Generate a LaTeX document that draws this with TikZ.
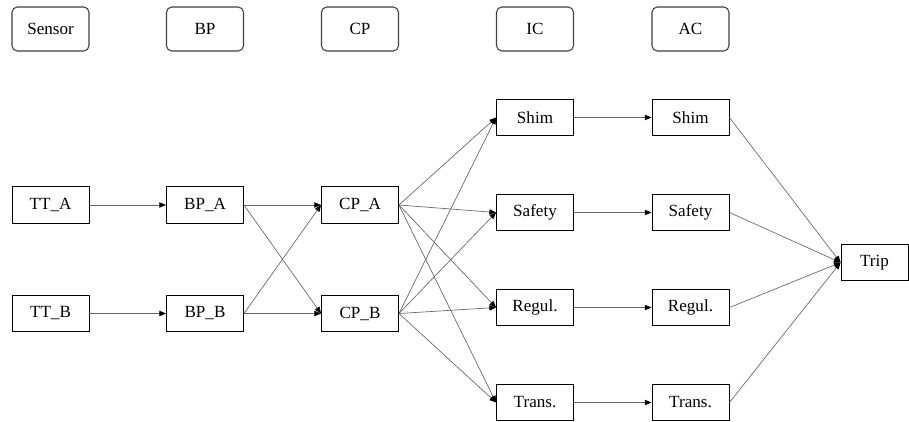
\documentclass[tikz,border=0pt]{standalone}
\usepackage{fontspec}
\setmainfont{Liberation Serif}
\newfontfamily\lserif{Liberation Serif}
\usetikzlibrary{arrows.meta}
\begin{document}
\begin{tikzpicture}[x=0.75pt,y=-0.75pt,
  lbl/.style={font=\lserif\fontsize{12.8pt}{14pt}\selectfont},
  hdr/.style={lbl,draw=black!75,line width=0.8pt,rounded corners=4pt,minimum width=77*0.75pt,minimum height=44*0.75pt,inner sep=0pt},
  box/.style={lbl,draw=black,line width=0.7pt,minimum width=77*0.75pt,minimum height=36.5*0.75pt,inner sep=0pt},
  edge/.style={draw=black!60,line width=0.5pt,-{Triangle[length=5pt,width=4pt,color=black]}}]
\useasboundingbox (0,0) rectangle (909,421);
% headers
\node[hdr] (hS) at (50.5,29) {Sensor};
\node[hdr] (hB) at (205,29) {BP};
\node[hdr] (hC) at (360,29) {CP};
\node[hdr] (hI) at (535,29) {IC};
\node[hdr] (hA) at (690.5,29) {AC};
% sensors
\node[box] (tta) at (50.5,205) {TT\_A};
\node[box] (ttb) at (50.5,313.5) {TT\_B};
\node[box] (bpa) at (205,205) {BP\_A};
\node[box] (bpb) at (205,313.5) {BP\_B};
\node[box] (cpa) at (360,205) {CP\_A};
\node[box] (cpb) at (360,313.5) {CP\_B};
% IC
\node[box] (ish) at (535,117.5) {Shim};
\node[box] (isa) at (535,212.5) {Safety};
\node[box] (ire) at (535,307.5) {Regul.};
\node[box] (itr) at (535,402.5) {Trans.};
% AC
\node[box] (ash) at (690.5,117.5) {Shim};
\node[box] (asa) at (690.5,212.5) {Safety};
\node[box] (are) at (690.5,307.5) {Regul.};
\node[box] (atr) at (690.5,402.5) {Trans.};
% trip
\node[box,minimum width=67*0.75pt] (trip) at (874.5,262.5) {Trip};
% edges
\draw[edge] (tta.east) -- (bpa.west);
\draw[edge] (ttb.east) -- (bpb.west);
\draw[edge] (bpa.east) -- (cpa.west);
\draw[edge] (bpa.east) -- (cpb.west);
\draw[edge] (bpb.east) -- (cpa.west);
\draw[edge] (bpb.east) -- (cpb.west);
\foreach \s in {cpa,cpb}{
  \foreach \t in {ish,isa,ire,itr}{
    \draw[edge] (\s.east) -- (\t.west);
  }
}
\draw[edge] (ish.east) -- (ash.west);
\draw[edge] (isa.east) -- (asa.west);
\draw[edge] (ire.east) -- (are.west);
\draw[edge] (itr.east) -- (atr.west);
\foreach \s in {ash,asa,are,atr}{
  \draw[edge] (\s.east) -- (trip.west);
}
\end{tikzpicture}
\end{document}
